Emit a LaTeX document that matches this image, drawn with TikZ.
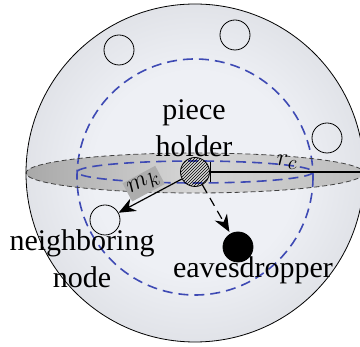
\documentclass[tikz,border=0pt]{standalone}
\usepackage{fontspec}
\setmainfont{Liberation Serif}
\usetikzlibrary{arrows.meta, patterns, positioning}
\definecolor{ballgray}{RGB}{192,194,200}
\definecolor{balllight}{RGB}{238,240,245}
\definecolor{rangeblue}{RGB}{62,74,180}
\pgfdeclareradialshading{ball}{\pgfpoint{0bp}{0bp}}{color(0bp)=(balllight); color(15bp)=(balllight); color(50bp)=(ballgray); color(72bp)=(ballgray)}

\begin{document}
\begin{tikzpicture}[
    x=1pt, y=-1pt,
    peer/.style={circle, draw=black, line width=0.8pt, minimum size=30pt, inner sep=0pt},
    txt/.style={font=\fontsize{30}{37}\selectfont, align=center, inner sep=0pt},
    rangering/.style={draw=rangeblue, line width=1.6pt, dash pattern=on 10pt off 6pt},
    arrow/.style={-{Stealth[length=17pt, width=14pt]}, line width=1.2pt},
    mkbox/.style={fill=black!32, inner sep=2pt, font=\fontsize{30}{30}\selectfont}
]
\useasboundingbox (0,0) rectangle (360,347);
\clip (0,0) rectangle (360,347);
\shade[shading=ball] (195,173) circle (169);
\shade[left color=black!34, right color=black!26, middle color=black!16] (195,173) ellipse (169 and 20);
\draw[rangering] (195,177) circle (118);
\draw[rangering] (195,172) ellipse (118 and 11);
\draw[black!75, line width=0.8pt, dash pattern=on 5pt off 3pt] (195,173) ellipse (169 and 20);
\draw[line width=0.8pt] (195,173) circle (169);

\node[peer] (peerA) at (119,50) {};
\node[peer] (peerB) at (235,35) {};
\node[peer] (peerC) at (327,138) {};
\node[peer] (nbr) at (105,220) {};
\node[peer, fill=black] (eve) at (238,247) {};
\node[peer, fill=white, pattern=north east lines, minimum size=29pt] (holder) at (195,172) {};
\coordinate (rim) at (364,172);

\draw[{Bar[width=20pt]}-, line width=1.3pt] (holder.east) -- node[txt, above=2pt] {$r_c$} (rim);
\draw[arrow] (holder) -- node[mkbox, midway, sloped, above=3pt] {$m_k$} (nbr);
\draw[arrow, dash pattern=on 9pt off 6pt, shorten >=2pt] (holder) -- (eve);

\node[txt, anchor=base] (holdertxt) at (194,157) {piece\\holder};
\node[txt, anchor=base] (nbrtxt) at (82,288) {neighboring\\node};
\node[txt, anchor=base] (evetxt) at (253,278) {eavesdropper};
\end{tikzpicture}
\end{document}
